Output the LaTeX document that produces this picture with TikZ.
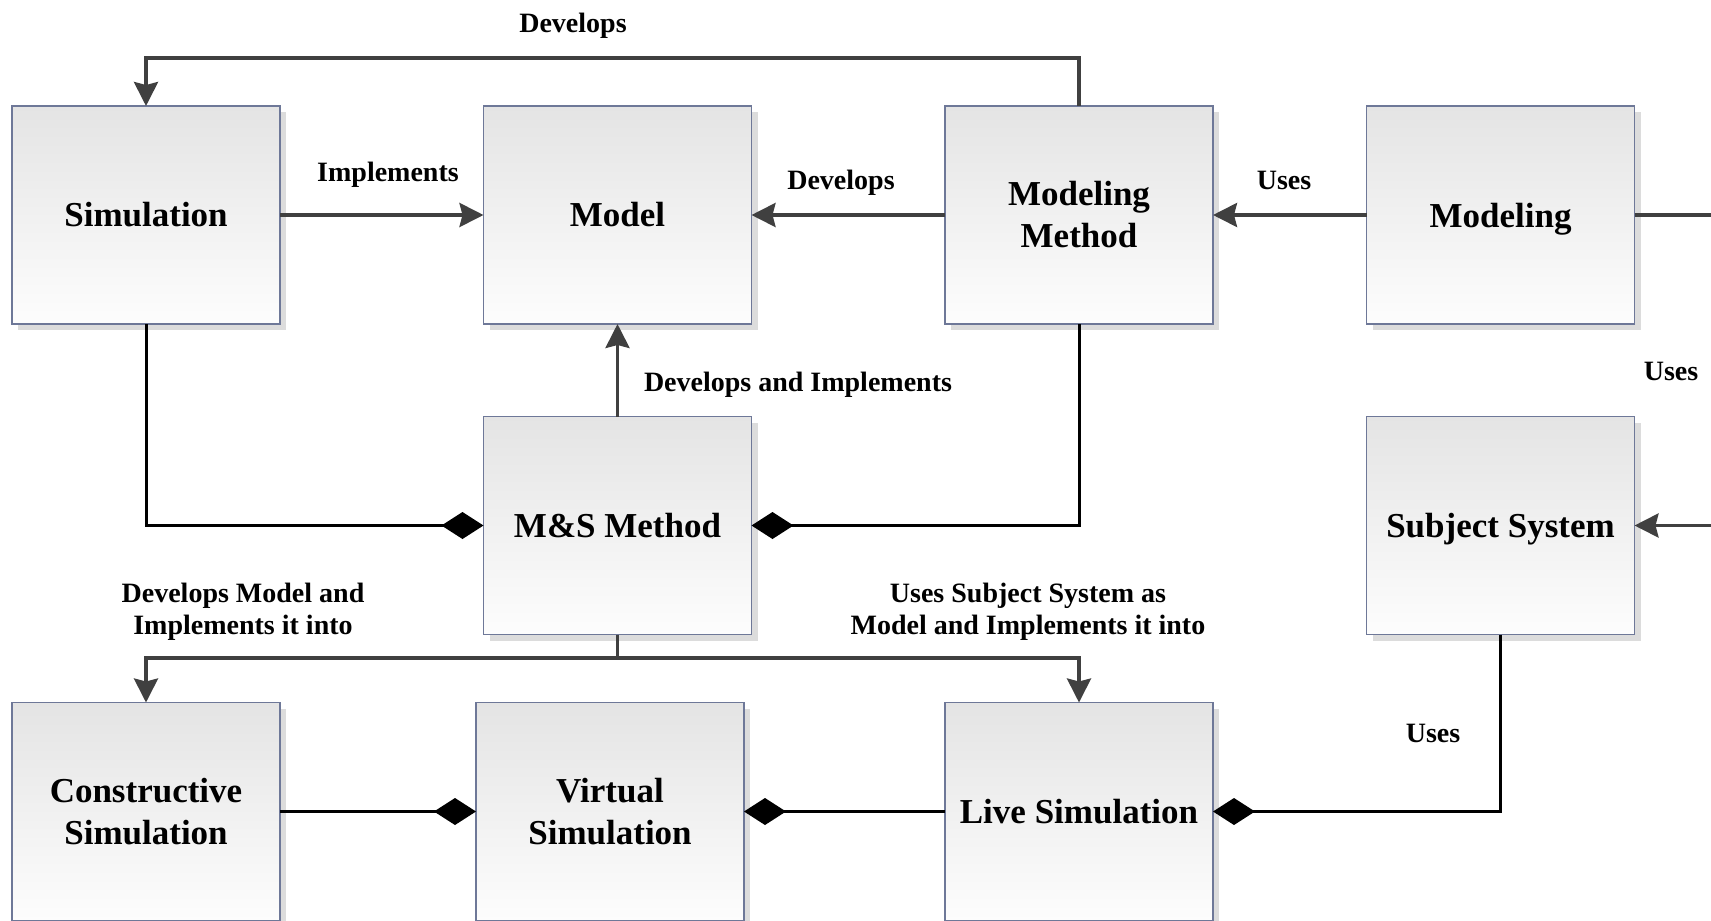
\documentclass[tikz,border=0pt]{standalone}
\usepackage{fontspec}
\setmainfont{Liberation Serif}
\usetikzlibrary{arrows.meta,shadows}
\definecolor{linegray}{HTML}{404040}
\definecolor{boxborder}{HTML}{6E7898}
\definecolor{boxtop}{HTML}{E4E4E4}
\definecolor{boxbot}{HTML}{FDFDFD}
\definecolor{shadowgray}{HTML}{DCDCDC}
\tikzset{
  block/.style={draw=boxborder, line width=1.5pt, top color=boxtop, bottom color=boxbot,
    minimum width=268pt, minimum height=218pt, inner sep=0pt, outer sep=0pt,
    align=center, font=\fontsize{35}{42}\selectfont\bfseries,
    general shadow={shadow xshift=6pt, shadow yshift=-6pt, fill=shadowgray, opacity=1}},
  lbl/.style={font=\fontsize{28}{32}\selectfont\bfseries, align=center, inner sep=0pt},
  garrow/.style={draw=linegray, line width=3.5pt, -{Stealth[length=24pt,width=24pt,inset=3pt]}},
  dline/.style={draw=black, line width=3pt, -{Diamond[length=42pt,width=27pt]}},
}
\begin{document}
\begin{tikzpicture}[x=1pt,y=-1pt]
\useasboundingbox (0,0) rectangle (1711,921);
\clip (0,0) rectangle (1711,921);
% boxes
\node[block] (sim) at (146,215) {Simulation};
\node[block] (model) at (617.5,215) {Model};
\node[block] (mm) at (1079,215) {Modeling\\Method};
\node[block] (modeling) at (1500.5,215) {\raisebox{0pt}[\height][0pt]{Modeling}};
\node[block] (ms) at (617.5,525.5) {M\&S Method};
\node[block] (subj) at (1500.5,525.5) {\raisebox{0pt}[\height][0pt]{Subject System}};
\node[block] (cons) at (146,811.5) {Constructive\\Simulation};
\node[block] (virt) at (610,811.5) {Virtual\\Simulation};
\node[block] (live) at (1079,811.5) {Live Simulation};
% coordinates
\coordinate (rt) at (1745,215);
\coordinate (ttop) at (1079,58);
\coordinate (jn) at (617.5,658);
% gray arrows
\draw[garrow] (mm.north) -- (ttop) -| (sim.north);
\draw[garrow] (sim.east) -- (model.west);
\draw[garrow] (mm.west) -- (model.east);
\draw[garrow] (modeling.west) -- (mm.east);
\draw[garrow] (modeling.east) -- (rt) |- (subj.east);
\draw[garrow] (ms.north) -- (model.south);
\draw[draw=linegray, line width=3.5pt] (ms.south) -- (jn);
\draw[garrow] (jn) -| (cons.north);
\draw[garrow] (jn) -| (live.north);
% diamond lines
\draw[dline] (sim.south) |- (ms.west);
\draw[dline] (mm.south) |- (ms.east);
\draw[dline] (cons.east) -- (virt.west);
\draw[dline] (live.west) -- (virt.east);
\draw[dline] (subj.south) |- (live.east);
% labels
\node[lbl] (l1) at (573,26) {Develops};
\node[lbl] (l2) at (388,175) {Implements};
\node[lbl] (l3) at (841,183) {Develops};
\node[lbl] (l4) at (1284,180) {Uses};
\node[lbl] (l5) at (1671,371) {Uses};
\node[lbl] (l6) at (798,385) {Develops and Implements};
\node[lbl] (l7) at (243,612) {Develops Model and\\Implements it into};
\node[lbl] (l8) at (1028,612) {Uses Subject System as\\Model and Implements it into};
\node[lbl] (l9) at (1433,733) {Uses};
\end{tikzpicture}
\end{document}
